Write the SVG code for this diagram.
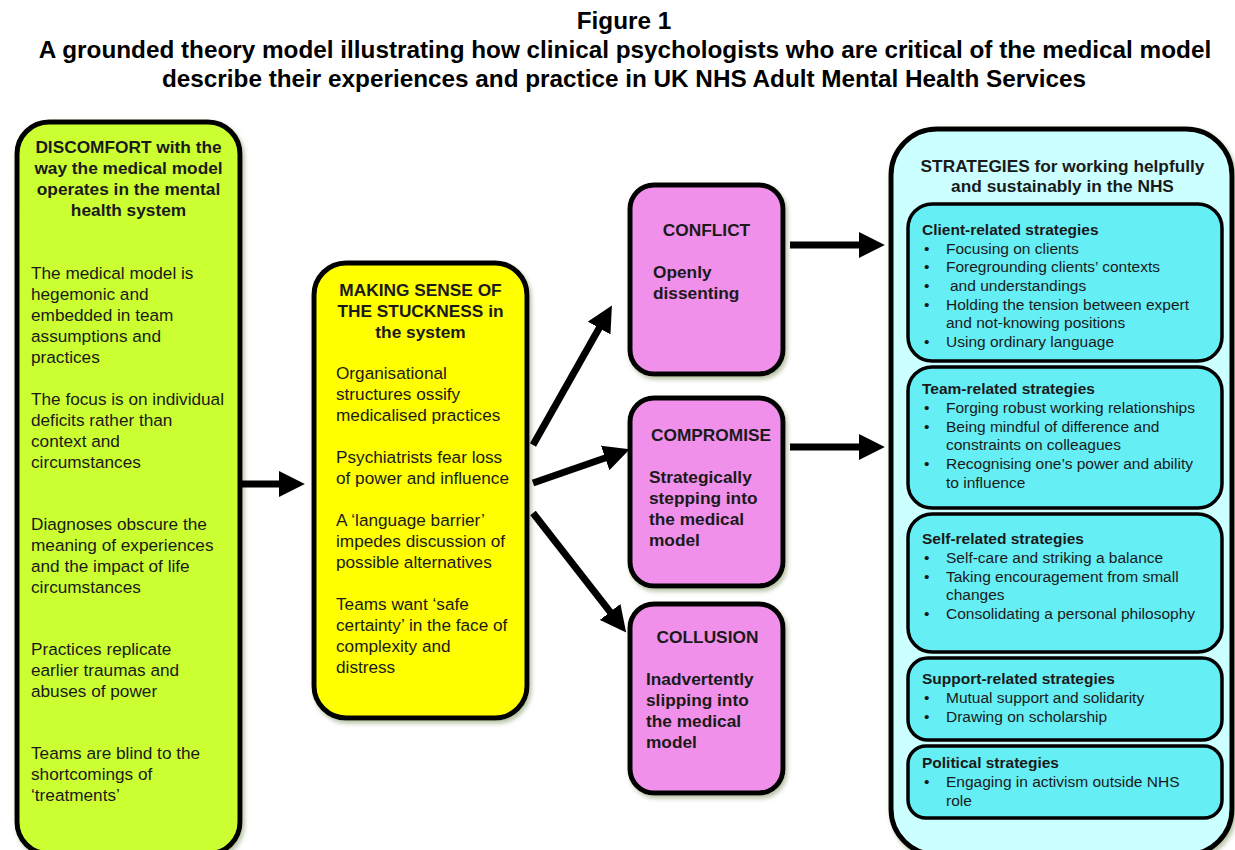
<svg xmlns="http://www.w3.org/2000/svg" width="1235" height="850" viewBox="0 0 1235 850">
<defs>
<filter id="sh" x="-10%" y="-10%" width="120%" height="120%">
<feDropShadow dx="2" dy="3" stdDeviation="2" flood-color="#7d9160" flood-opacity="0.55"/>
</filter>
<marker id="ah" markerUnits="userSpaceOnUse" markerWidth="26" markerHeight="26" refX="2" refY="12" orient="auto" viewBox="0 0 24 24">
<path d="M0,0 L24,12 L0,24 Z" fill="#000"/>
</marker>
<style>
text{font-family:"Liberation Sans",Arial,sans-serif;fill:#1a1a1a}
.title{font-size:24.3px;font-weight:bold;fill:#000;text-anchor:middle}
.hd{font-size:17.3px;font-weight:bold}
.c{text-anchor:middle}
.bd{font-size:17.2px}
.sh{font-size:15.5px;font-weight:bold}
.si{font-size:15.5px}
.box{stroke:#000;stroke-width:5;filter:url(#sh)}
.inner{stroke:#000;stroke-width:3.5;fill:#66EEF5}
.arr{stroke:#000;stroke-width:7;fill:none;marker-end:url(#ah)}
</style>
</defs>
<rect width="1235" height="850" fill="#fff"/>
<g id="title">
<text class="title" x="624" y="29">Figure 1</text>
<text class="title" x="625" y="58">A grounded theory model illustrating how clinical psychologists who are critical of the medical model</text>
<text class="title" x="624" y="87">describe their experiences and practice in UK NHS Adult Mental Health Services</text>
</g>
<g id="discomfort">
<rect class="box" x="17" y="122" width="223" height="732" rx="32" fill="#CCFF33"/>
<text class="hd c" x="128.5" y="153">DISCOMFORT with the</text>
<text class="hd c" x="128.5" y="174">way the medical model</text>
<text class="hd c" x="128.5" y="195">operates in the mental</text>
<text class="hd c" x="128.5" y="216">health system</text>
<text class="bd" x="31" y="279">The medical model is</text>
<text class="bd" x="31" y="300">hegemonic and</text>
<text class="bd" x="31" y="321">embedded in team</text>
<text class="bd" x="31" y="342">assumptions and</text>
<text class="bd" x="31" y="363">practices</text>
<text class="bd" x="31" y="405">The focus is on individual</text>
<text class="bd" x="31" y="426">deficits rather than</text>
<text class="bd" x="31" y="447">context and</text>
<text class="bd" x="31" y="468">circumstances</text>
<text class="bd" x="31" y="530">Diagnoses obscure the</text>
<text class="bd" x="31" y="551">meaning of experiences</text>
<text class="bd" x="31" y="572">and the impact of life</text>
<text class="bd" x="31" y="593">circumstances</text>
<text class="bd" x="31" y="655">Practices replicate</text>
<text class="bd" x="31" y="676">earlier traumas and</text>
<text class="bd" x="31" y="697">abuses of power</text>
<text class="bd" x="31" y="759">Teams are blind to the</text>
<text class="bd" x="31" y="780">shortcomings of</text>
<text class="bd" x="31" y="801">‘treatments’</text>
</g>
<g id="stuckness">
<rect class="box" x="314" y="263" width="213" height="455" rx="32" fill="#FFFF00"/>
<text class="hd c" x="420.5" y="296">MAKING SENSE OF</text>
<text class="hd c" x="420.5" y="317">THE STUCKNESS in</text>
<text class="hd c" x="420.5" y="338">the system</text>
<text class="bd" x="336" y="379">Organisational</text>
<text class="bd" x="336" y="400">structures ossify</text>
<text class="bd" x="336" y="421">medicalised practices</text>
<text class="bd" x="336" y="463">Psychiatrists fear loss</text>
<text class="bd" x="336" y="484">of power and influence</text>
<text class="bd" x="336" y="526">A ‘language barrier’</text>
<text class="bd" x="336" y="547">impedes discussion of</text>
<text class="bd" x="336" y="568">possible alternatives</text>
<text class="bd" x="336" y="610">Teams want ‘safe</text>
<text class="bd" x="336" y="631">certainty’ in the face of</text>
<text class="bd" x="336" y="652">complexity and</text>
<text class="bd" x="336" y="673">distress</text>
</g>
<g id="conflict">
<rect class="box" x="630" y="185" width="153" height="189" rx="24" fill="#F190EA"/>
<text class="hd c" x="706.5" y="236">CONFLICT</text>
<text class="hd" x="653" y="278">Openly</text>
<text class="hd" x="653" y="299">dissenting</text>
</g>
<g id="compromise">
<rect class="box" x="630" y="398" width="153" height="188" rx="24" fill="#F190EA"/>
<text class="hd c" x="711" y="441">COMPROMISE</text>
<text class="hd" x="649" y="483">Strategically</text>
<text class="hd" x="649" y="504">stepping into</text>
<text class="hd" x="649" y="525">the medical</text>
<text class="hd" x="649" y="546">model</text>
</g>
<g id="collusion">
<rect class="box" x="630" y="604" width="153" height="189" rx="24" fill="#F190EA"/>
<text class="hd c" x="707.5" y="643">COLLUSION</text>
<text class="hd" x="646" y="685">Inadvertently</text>
<text class="hd" x="646" y="706">slipping into</text>
<text class="hd" x="646" y="727">the medical</text>
<text class="hd" x="646" y="748">model</text>
</g>
<g id="strategies">
<rect class="box" x="891" y="129" width="341" height="726" rx="46" fill="#CCFFFF"/>
<text class="hd c" x="1062.5" y="172">STRATEGIES for working helpfully</text>
<text class="hd c" x="1062.5" y="192">and sustainably in the NHS</text>
</g>
<g id="client">
<rect class="inner" x="908" y="204" width="314" height="157" rx="24"/>
<text class="sh" x="922" y="235">Client-related strategies</text>
<text class="si" x="924" y="254">•</text><text class="si" x="946" y="254">Focusing on clients</text>
<text class="si" x="924" y="272">•</text><text class="si" x="946" y="272">Foregrounding clients’ contexts</text>
<text class="si" x="924" y="291">•</text><text class="si" x="950" y="291">and understandings</text>
<text class="si" x="924" y="310">•</text><text class="si" x="946" y="310">Holding the tension between expert</text>
<text class="si" x="946" y="328">and not-knowing positions</text>
<text class="si" x="924" y="347">•</text><text class="si" x="946" y="347">Using ordinary language</text>
</g>
<g id="team">
<rect class="inner" x="908" y="367" width="314" height="141" rx="24"/>
<text class="sh" x="922" y="394">Team-related strategies</text>
<text class="si" x="924" y="413">•</text><text class="si" x="946" y="413">Forging robust working relationships</text>
<text class="si" x="924" y="432">•</text><text class="si" x="946" y="432">Being mindful of difference and</text>
<text class="si" x="946" y="450">constraints on colleagues</text>
<text class="si" x="924" y="469">•</text><text class="si" x="946" y="469">Recognising one’s power and ability</text>
<text class="si" x="946" y="488">to influence</text>
</g>
<g id="self">
<rect class="inner" x="908" y="514" width="314" height="138" rx="24"/>
<text class="sh" x="922" y="544">Self-related strategies</text>
<text class="si" x="924" y="563">•</text><text class="si" x="946" y="563">Self-care and striking a balance</text>
<text class="si" x="924" y="582">•</text><text class="si" x="946" y="582">Taking encouragement from small</text>
<text class="si" x="946" y="600">changes</text>
<text class="si" x="924" y="619">•</text><text class="si" x="946" y="619">Consolidating a personal philosophy</text>
</g>
<g id="support">
<rect class="inner" x="908" y="658" width="314" height="82" rx="20"/>
<text class="sh" x="922" y="684">Support-related strategies</text>
<text class="si" x="924" y="703">•</text><text class="si" x="946" y="703">Mutual support and solidarity</text>
<text class="si" x="924" y="722">•</text><text class="si" x="946" y="722">Drawing on scholarship</text>
</g>
<g id="political">
<rect class="inner" x="908" y="746" width="314" height="72" rx="18"/>
<text class="sh" x="922" y="768">Political strategies</text>
<text class="si" x="924" y="787">•</text><text class="si" x="946" y="787">Engaging in activism outside NHS</text>
<text class="si" x="946" y="806">role</text>
</g>
<g id="connectors">
<line class="arr" x1="242" y1="484" x2="281" y2="484"/>
<line class="arr" x1="533" y1="445" x2="600.2" y2="326.2"/>
<line class="arr" x1="533" y1="483" x2="607.2" y2="457.2"/>
<line class="arr" x1="533" y1="513" x2="611.5" y2="613.6"/>
<line class="arr" x1="790" y1="245" x2="861" y2="245"/>
<line class="arr" x1="790" y1="447" x2="861" y2="447"/>
</g>
</svg>
